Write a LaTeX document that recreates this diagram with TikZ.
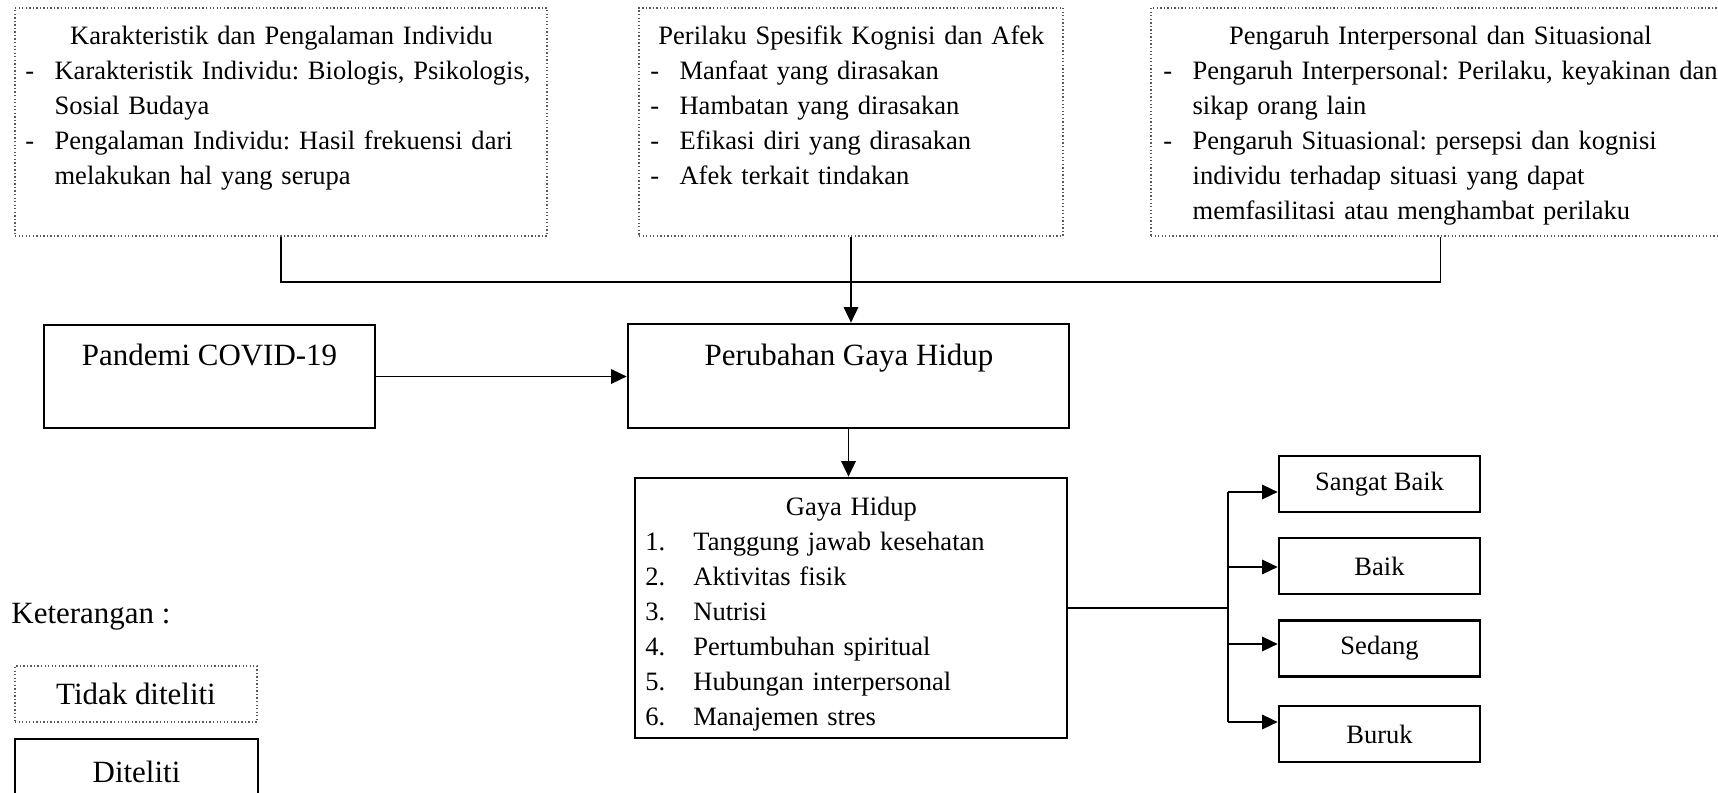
\documentclass[tikz,border=0pt]{standalone}
\usepackage{fontspec}
\setmainfont{Liberation Serif}
\usetikzlibrary{arrows.meta}

\tikzset{
  tdk/.style={draw=gray!70!black, densely dotted, line width=0.6pt, inner sep=0pt},
  dtl/.style={draw, line width=1.2pt, inner sep=0pt},
  wh/.style 2 args={minimum width={#1*0.4525pt}, minimum height={#2*0.4525pt}},
  kecil/.style={font=\fontsize{12}{15.84}\selectfont},
  besar/.style={font=\fontsize{14}{16.8}\selectfont},
  con/.style={line width=0.85pt},
  arr/.style={con, -{Triangle[length=7pt,width=6.5pt]}},
  isi/.style={kecil, inner sep=0pt, anchor=north west, align=left},
}
\newcommand{\itemdash}[1]{\mbox{\makebox[13.2pt][l]{-}#1}}
\newcommand{\itemcont}[1]{\mbox{\hspace*{13.2pt}#1}}
\newcommand{\itemnum}[2]{\mbox{\makebox[21.7pt][l]{#1.}#2}}
\newcommand{\boxtitle}[1]{\makebox[\hsize]{#1}}
\frenchspacing

\begin{document}
\begin{tikzpicture}[x=0.4525pt, y=-0.4525pt]
\useasboundingbox (0,0) rectangle (1718,793);

% faktor yang tidak diteliti
\node[tdk, wh={532}{228}] (karak) at (281,122) {};
\node[tdk, wh={424}{228}] (perilaku) at (851,122) {};
\node[tdk, wh={579}{228}] (pengaruh) at (1440.5,122) {};

\node[isi, text width=231.7pt] (karakT) at (25,19.5) {\strut\boxtitle{Karakteristik dan Pengalaman Individu}\\
\itemdash{Karakteristik Individu: Biologis, Psikologis,}\\
\itemcont{Sosial Budaya}\\
\itemdash{\makebox[212.4pt][s]{Pengalaman Individu: Hasil frekuensi dari}}\\
\itemcont{melakukan hal yang serupa}};
\node[isi, text width=181.9pt] (perilakuT) at (650,19.5) {\strut\boxtitle{Perilaku Spesifik Kognisi dan Afek}\\
\itemdash{Manfaat yang dirasakan}\\
\itemdash{Hambatan yang dirasakan}\\
\itemdash{Efikasi diri yang dirasakan}\\
\itemdash{Afek terkait tindakan}};
\node[isi, text width=250.7pt] (pengaruhT) at (1163,19.5) {\strut\boxtitle{Pengaruh Interpersonal dan Situasional}\\
\itemdash{Pengaruh Interpersonal: Perilaku, keyakinan dan}\\
\itemcont{sikap orang lain}\\
\itemdash{Pengaruh Situasional: persepsi dan kognisi}\\
\itemcont{individu terhadap situasi yang dapat}\\
\itemcont{memfasilitasi atau menghambat perilaku}};

% alur utama
\node[dtl, wh={331}{103}] (pandemi) at (209.5,376.5) {};
\node[besar, anchor=base] (pandemiT) at (209.5,365) {Pandemi COVID-19};
\node[dtl, wh={441}{104}] (perubahan) at (848.5,376) {};
\node[besar, anchor=base] (perubahanT) at (849,365) {Perubahan Gaya Hidup};

\node[dtl, wh={432}{260}] (gaya) at (851,608) {};
\node[isi, text width=186.4pt] (gayaT) at (645,490.5) {\strut\boxtitle{Gaya Hidup}\\
\itemnum{1}{Tanggung jawab kesehatan}\\
\itemnum{2}{Aktivitas fisik}\\
\itemnum{3}{Nutrisi}\\
\itemnum{4}{Pertumbuhan spiritual}\\
\itemnum{5}{Hubungan interpersonal}\\
\itemnum{6}{Manajemen stres}};

% kategori
\node[dtl, kecil, wh={201}{56}] (sbaik) at (1379.5,484) {Sangat Baik};
\node[dtl, kecil, wh={201}{56}] (baik) at (1379.5,566) {Baik};
\node[dtl, kecil, wh={201}{56}] (sedang) at (1379.5,648.5) {Sedang};
\node[dtl, kecil, wh={201}{56}] (buruk) at (1379.5,734) {Buruk};

% keterangan
\node[besar, anchor=base west, inner sep=0pt] (ket) at (11,623) {Keterangan :};
\node[tdk, besar, wh={242}{56}] (tidak) at (136,694) {Tidak diteliti};
\node[dtl, besar, wh={243}{66}] (diteliti) at (136.5,772) {Diteliti};

% garis penghubung
\coordinate (atas) at (851,282);
\draw[con] (karak.south) |- (atas) -| (pengaruh.south);
\draw[arr] (perilaku.south) -- (perilaku.south |- perubahan.north);
\draw[arr] (pandemi.east) -- (pandemi.east -| perubahan.west);
\draw[arr] (perubahan.south) -- (perubahan.south |- gaya.north);

\coordinate (cabang) at (1228,608);
\draw[con] (gaya.east) -- (cabang);
\draw[con] (cabang |- 0,492) -- (cabang |- 0,722);
\foreach \n/\y in {sbaik/492, baik/567, sedang/644, buruk/722}
  \draw[arr] (1228,\y) -- (\n.west |- 0,\y);
\end{tikzpicture}
\end{document}
